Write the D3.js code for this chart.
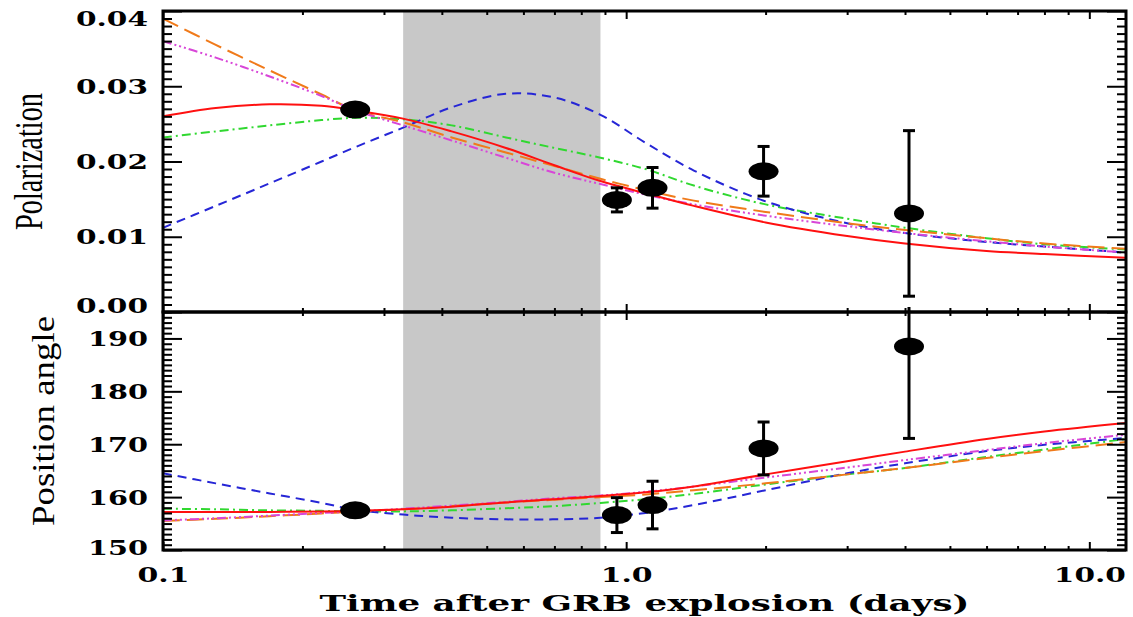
<!DOCTYPE html>
<html>
<head>
<meta charset="utf-8">
<script src="https://cdn.jsdelivr.net/npm/d3@7"></script>
<style>
  body { margin: 0; background: #fff; }
  svg { display: block; }
</style>
</head>
<body>
<svg id="chart" width="1133" height="617"></svg>
<script>
// observed points
const tObs = [0.26, 0.955, 1.14, 1.98, 4.08];
const polObs = [0.0269, 0.0149, 0.0165, 0.0187, 0.0131];
const polErr = [0.0003, 0.0016, 0.0027, 0.0033, 0.0110];
const paObs = [157.5, 156.6, 158.5, 169.2, 188.5];
const paErr = [0.5, 3.3, 4.5, 5.0, 17.4];

// model curves, sampled times (days)
const tModel = [0.1, 0.13, 0.17, 0.22, 0.26, 0.33, 0.42, 0.55, 0.7, 0.88, 1.1, 1.4, 2, 3, 4, 6, 8, 12];

const polRed     = [0.0260, 0.0271, 0.0276, 0.0274, 0.0268, 0.0257, 0.0240, 0.0218, 0.0195, 0.0174, 0.0158, 0.0141, 0.0119, 0.0101, 0.0091, 0.0081, 0.0077, 0.0072];
const polGreen   = [0.0232, 0.0240, 0.0248, 0.0255, 0.0258, 0.0256, 0.0248, 0.0232, 0.0218, 0.0205, 0.0190, 0.0168, 0.0143, 0.0124, 0.0112, 0.0098, 0.0090, 0.0083];
const polBlue    = [0.0112, 0.0141, 0.0171, 0.0200, 0.0219, 0.0245, 0.0272, 0.0290, 0.0285, 0.0262, 0.0225, 0.0188, 0.0147, 0.0118, 0.0105, 0.0093, 0.0087, 0.0079];
const polOrange  = [0.0390, 0.0355, 0.0321, 0.0289, 0.0268, 0.0252, 0.0232, 0.0212, 0.0194, 0.0177, 0.0162, 0.0148, 0.0133, 0.0118, 0.0109, 0.0098, 0.0091, 0.0084];
const polMagenta = [0.0360, 0.0338, 0.0313, 0.0287, 0.0268, 0.0248, 0.0228, 0.0205, 0.0185, 0.0170, 0.0156, 0.0143, 0.0128, 0.0114, 0.0105, 0.0094, 0.0087, 0.0079];

const paRed     = [157.2, 157.2, 157.2, 157.3, 157.4, 157.7, 158.2, 159.0, 159.6, 160.2, 160.9, 162.0, 164.3, 166.8, 168.6, 171.0, 172.4, 174.0];
const paGreen   = [157.8, 157.7, 157.5, 157.4, 157.3, 157.3, 157.5, 157.9, 158.3, 158.9, 159.6, 160.6, 162.4, 164.3, 165.5, 167.6, 169.0, 171.0];
const paBlue    = [164.5, 162.6, 160.7, 158.9, 157.6, 156.7, 156.1, 155.8, 155.8, 156.1, 157.0, 158.5, 161.3, 164.5, 166.4, 168.7, 169.9, 171.2];
const paOrange  = [155.5, 155.9, 156.4, 156.9, 157.3, 157.7, 158.3, 159.0, 159.5, 160.0, 160.5, 161.3, 162.6, 164.3, 165.5, 167.4, 168.7, 170.4];
const paMagenta = [155.6, 156.0, 156.5, 157.0, 157.3, 157.8, 158.4, 159.1, 159.8, 160.3, 161.0, 162.0, 163.7, 165.6, 167.0, 168.9, 170.2, 171.8];

// shaded interval (days)
const shade = [0.33, 0.88];

const polTicks = [0, 0.01, 0.02, 0.03, 0.04];
const paTicks = [150, 160, 170, 180, 190];
const timeTicks = [0.1, 1, 10];

const styles = {
  red:     { color: '#ff1010', dash: null },
  green:   { color: '#30d830', dash: '9,4,2,4' },
  blue:    { color: '#2626d6', dash: '9,6' },
  orange:  { color: '#f07a1a', dash: '17,7' },
  magenta: { color: '#d846d8', dash: '9,3,2,3,2,3,2,3' }
};

const L = 163, R = 1126, T = 11, M = 312, B = 550;
const svg = d3.select('#chart');

const x = d3.scaleLog().domain([0.1, 12]).range([L, R]);
const yP = d3.scaleLinear().domain([0, 0.04]).range([M, T]);
const yA = d3.scaleLinear().domain([150, 195]).range([B, M]);

const tickFont = 'DejaVu Serif';
function labelLen(s) {
  let n = 0;
  for (const c of s) n += (c === '.') ? 12 : 20;
  return n;
}

function defs() {
  const d = svg.append('defs');
  d.append('clipPath').attr('id', 'clipTop')
    .append('rect').attr('x', L).attr('y', T).attr('width', R - L).attr('height', M - T);
  d.append('clipPath').attr('id', 'clipBot')
    .append('rect').attr('x', L).attr('y', M - 5).attr('width', R - L).attr('height', B - M + 5);
}

function drawShade() {
  svg.append('rect')
    .attr('x', x(shade[0]))
    .attr('y', T)
    .attr('width', x(shade[1]) - x(shade[0]))
    .attr('height', B - T)
    .attr('fill', '#c8c8c8');
}

function drawCurves(g, y, series) {
  const line = d3.line()
    .x((d, i) => x(tModel[i]))
    .y(d => y(d))
    .curve(d3.curveCatmullRom.alpha(0.5));
  series.forEach(s => {
    const st = styles[s.name];
    g.append('path')
      .attr('d', line(s.values))
      .attr('fill', 'none')
      .attr('stroke', st.color)
      .attr('stroke-width', 2)
      .attr('stroke-dasharray', st.dash);
  });
}

function drawPoints(g, y, vals, errs) {
  const pts = tObs.map((t, i) => ({ t, v: vals[i], e: errs[i] }));
  const eb = g.append('g').attr('stroke', '#000').attr('stroke-width', 3);
  pts.forEach(p => {
    const cx = x(p.t);
    eb.append('line').attr('x1', cx).attr('x2', cx).attr('y1', y(p.v - p.e)).attr('y2', y(p.v + p.e));
    [p.v - p.e, p.v + p.e].forEach(v => {
      eb.append('line').attr('x1', cx - 6).attr('x2', cx + 6).attr('y1', y(v)).attr('y2', y(v));
    });
  });
  g.selectAll('ellipse.pt').data(pts).join('ellipse')
    .attr('class', 'pt')
    .attr('cx', d => x(d.t))
    .attr('cy', d => y(d.v))
    .attr('rx', 15)
    .attr('ry', 9)
    .attr('fill', '#000');
}

function styleAxis(g) {
  g.select('.domain').remove();
  g.selectAll('.tick line').attr('stroke', '#000').attr('stroke-width', 2);
}

function drawFrame(y, yTop, yBot, majors, minorStep, fmt, xLabels, nudge) {
  const lo = y.domain()[0], hi = y.domain()[1];
  const minors = d3.range(lo, hi + minorStep / 2, minorStep)
    .filter(v => !majors.some(m => Math.abs(m - v) < minorStep / 10));

  const left = svg.append('g').attr('transform', `translate(${L},0)`)
    .call(d3.axisLeft(y).tickValues(majors).tickSizeInner(-19).tickSizeOuter(0).tickPadding(15).tickFormat(fmt));
  styleAxis(left);
  left.selectAll('.tick text')
    .attr('font-family', tickFont)
    .attr('font-weight', 'bold')
    .attr('font-size', 21)
    .attr('fill', '#000')
    .attr('textLength', function() { return labelLen(this.textContent); })
    .attr('lengthAdjust', 'spacingAndGlyphs')
    .attr('dy', (d) => (nudge[fmt(d)] || 0) + 7);

  const leftMin = svg.append('g').attr('transform', `translate(${L},0)`)
    .call(d3.axisLeft(y).tickValues(minors).tickSize(-9).tickFormat(''));
  styleAxis(leftMin);

  const right = svg.append('g').attr('transform', `translate(${R},0)`)
    .call(d3.axisRight(y).tickValues(majors).tickSize(-19).tickFormat(''));
  styleAxis(right);
  const rightMin = svg.append('g').attr('transform', `translate(${R},0)`)
    .call(d3.axisRight(y).tickValues(minors).tickSize(-9).tickFormat(''));
  styleAxis(rightMin);

  const tMinor = x.ticks().filter(v => !timeTicks.includes(v));
  [[yTop, d3.axisTop], [yBot, d3.axisBottom]].forEach(([yy, ax]) => {
    const isBottom = ax === d3.axisBottom;
    const fmtX = (isBottom && xLabels) ? (d => d < 1 ? '0.1' : d.toFixed(1)) : '';
    const gMaj = svg.append('g').attr('transform', `translate(0,${yy})`)
      .call(ax(x).tickValues(timeTicks).tickSizeInner(-8).tickSizeOuter(0).tickPadding(17).tickFormat(fmtX));
    styleAxis(gMaj);
    gMaj.selectAll('.tick text')
      .attr('font-family', tickFont)
      .attr('font-weight', 'bold')
      .attr('font-size', 21)
      .attr('fill', '#000')
      .attr('textLength', function() { return labelLen(this.textContent); })
      .attr('lengthAdjust', 'spacingAndGlyphs');
    const gMin = svg.append('g').attr('transform', `translate(0,${yy})`)
      .call(ax(x).tickValues(tMinor).tickSize(-4).tickFormat(''));
    styleAxis(gMin);
  });

  svg.append('rect')
    .attr('x', L).attr('y', yTop)
    .attr('width', R - L).attr('height', yBot - yTop)
    .attr('fill', 'none')
    .attr('stroke', '#000')
    .attr('stroke-width', 3);
}

function drawTitles() {
  svg.append('text')
    .attr('transform', `translate(42,${(T + M) / 2}) rotate(-90)`)
    .attr('text-anchor', 'middle')
    .attr('font-family', 'Liberation Serif')
    .attr('font-size', 40)
    .attr('textLength', 137)
    .attr('lengthAdjust', 'spacingAndGlyphs')
    .text('Polarization');

  svg.append('text')
    .attr('transform', 'translate(54,421) rotate(-90)')
    .attr('text-anchor', 'middle')
    .attr('font-family', 'Liberation Serif')
    .attr('font-size', 32)
    .attr('textLength', 210)
    .attr('lengthAdjust', 'spacingAndGlyphs')
    .text('Position angle');

  svg.append('text')
    .attr('x', (L + R) / 2)
    .attr('y', 611)
    .attr('text-anchor', 'middle')
    .attr('font-family', tickFont)
    .attr('font-weight', 'bold')
    .attr('font-size', 23)
    .attr('textLength', 650)
    .attr('lengthAdjust', 'spacingAndGlyphs')
    .text('Time after GRB explosion (days)');
}

function main() {
  defs();
  drawShade();

  const top = svg.append('g').attr('clip-path', 'url(#clipTop)');
  drawCurves(top, yP, [
    { name: 'green', values: polGreen },
    { name: 'blue', values: polBlue },
    { name: 'orange', values: polOrange },
    { name: 'magenta', values: polMagenta },
    { name: 'red', values: polRed }
  ]);
  drawPoints(top, yP, polObs, polErr);

  const bot = svg.append('g').attr('clip-path', 'url(#clipBot)');
  drawCurves(bot, yA, [
    { name: 'green', values: paGreen },
    { name: 'blue', values: paBlue },
    { name: 'orange', values: paOrange },
    { name: 'magenta', values: paMagenta },
    { name: 'red', values: paRed }
  ]);
  drawPoints(bot, yA, paObs, paErr);

  drawFrame(yP, T, M, polTicks, 0.001, d3.format('.2f'), false, { '0.04': 7, '0.00': -7 });
  drawFrame(yA, M, B, paTicks, 1, d3.format('d'), true, { '150': -3 });
  drawTitles();
}

main();
</script>
</body>
</html>
